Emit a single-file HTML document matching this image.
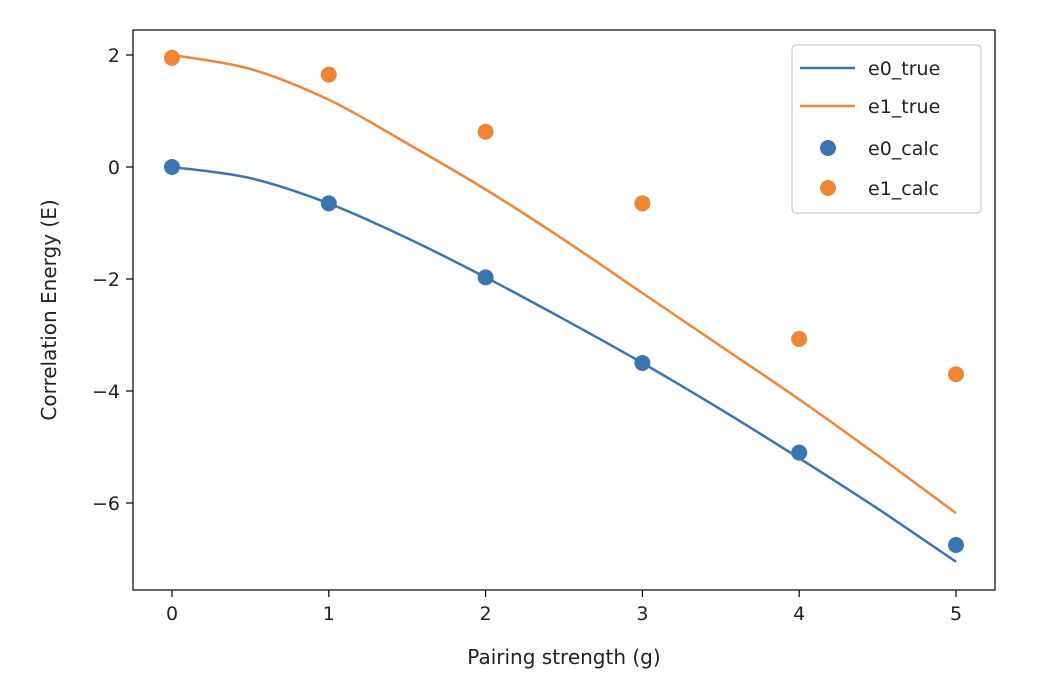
<!DOCTYPE html>
<html><head><meta charset="utf-8"><style>
html,body{margin:0;padding:0;background:#fff;}
svg{display:block;font-family:"DejaVu Sans","Liberation Sans",sans-serif;}
</style></head><body>
<svg id="chart" width="1060" height="690" viewBox="0 0 1060 690" xmlns="http://www.w3.org/2000/svg">
<rect x="0" y="0" width="1060" height="690" fill="#fff"/>
<g id="plot"></g>
</svg>
<script>
const gCurve = [0,0.5,1,1.5,2,2.5,3,3.5,4,4.5,5];
const e0True = [0,-0.2,-0.65,-1.27,-1.97,-2.72,-3.5,-4.33,-5.2,-6.1,-7.05];
const e1True = [2.0,1.75,1.2,0.42,-0.4,-1.3,-2.25,-3.2,-4.15,-5.15,-6.18];
const gCalc = [0,1,2,3,4,5];
const e0Calc = [0,-0.65,-1.97,-3.5,-5.1,-6.75];
const e1Calc = [1.95,1.65,0.63,-0.65,-3.07,-3.7];
const xTicks = [0,1,2,3,4,5];
const yTicks = [2,0,-2,-4,-6];
const yTickLabels = ["2","0","\u22122","\u22124","\u22126"];

const NS="http://www.w3.org/2000/svg";
const X=v=>172+v*156.8;
const Y=v=>167-v*56;
const plot=document.getElementById('plot');
function mk(tag,attrs,parent){const e=document.createElementNS(NS,tag);for(const k in attrs)e.setAttribute(k,attrs[k]);(parent||plot).appendChild(e);return e;}

// frame
const frame=mk('rect',{x:133,y:30,width:862,height:560,fill:'none',stroke:'#000','stroke-width':1.2});



xTicks.forEach(t=>{
  const l=mk('line',{x1:X(t),x2:X(t),y1:590,y2:597,stroke:'#000','stroke-width':1.2});
  
  
  const tx=mk('text',{x:X(t),y:620,'text-anchor':'middle','font-size':19,fill:'#222'});
  tx.textContent=t;
  
  
});
yTicks.forEach((t,i)=>{
  const l=mk('line',{x1:126,x2:133,y1:Y(t),y2:Y(t),stroke:'#000','stroke-width':1.2});
  
  
  const tx=mk('text',{x:120,y:Y(t)+7,'text-anchor':'end','font-size':19,fill:'#222'});
  tx.textContent=yTickLabels[i];
  
  
});
const xt=mk('text',{x:564,y:664,'text-anchor':'middle','font-size':20,fill:'#222'});
xt.textContent='Pairing strength (g)';


const yt=mk('text',{x:56,y:310,'text-anchor':'middle','font-size':20,fill:'#222',transform:'rotate(-90 56 310)'});
yt.textContent='Correlation Energy (E)';



function smooth(xs,ys){
  const p=xs.map((x,i)=>[X(x),Y(ys[i])]);
  let d='M'+p[0][0]+','+p[0][1];
  for(let i=0;i<p.length-1;i++){
    const p0=p[Math.max(0,i-1)],p1=p[i],p2=p[i+1],p3=p[Math.min(p.length-1,i+2)];
    const c1=[p1[0]+(p2[0]-p0[0])/6,p1[1]+(p2[1]-p0[1])/6];
    const c2=[p2[0]-(p3[0]-p1[0])/6,p2[1]-(p3[1]-p1[1])/6];
    d+=' C'+c1+' '+c2+' '+p2;
  }
  return d;
}
const l0=mk('path',{d:smooth(gCurve,e0True),fill:'none',stroke:'#3b75af','stroke-width':2.5});


const l1=mk('path',{d:smooth(gCurve,e1True),fill:'none',stroke:'#ef8636','stroke-width':2.5});


gCalc.forEach((g,i)=>{
  const c=mk('circle',{cx:X(g),cy:Y(e0Calc[i]),r:8,fill:'#3b75af'});
  
  
});
gCalc.forEach((g,i)=>{
  const c=mk('circle',{cx:X(g),cy:Y(e1Calc[i]),r:8,fill:'#ef8636'});
  
  
});

// legend
const lg=mk('g',{});


mk('rect',{x:792,y:45,width:189,height:168,rx:4,fill:'#fff',stroke:'#ccc','stroke-width':1.2},lg);
const entries=[['e0_true','line','#3b75af',68],['e1_true','line','#ef8636',106],['e0_calc','dot','#3b75af',148],['e1_calc','dot','#ef8636',188]];
entries.forEach(e=>{
  const g=mk('g',{},lg);
  
  
  if(e[1]==='line') mk('line',{x1:800,x2:855,y1:e[3],y2:e[3],stroke:e[2],'stroke-width':2.5},g);
  else mk('circle',{cx:828,cy:e[3],r:8,fill:e[2]},g);
  const t=mk('text',{x:868,y:e[3]+7,'font-size':19,fill:'#222'},g);
  t.textContent=e[0];
});
</script>
</body></html>
